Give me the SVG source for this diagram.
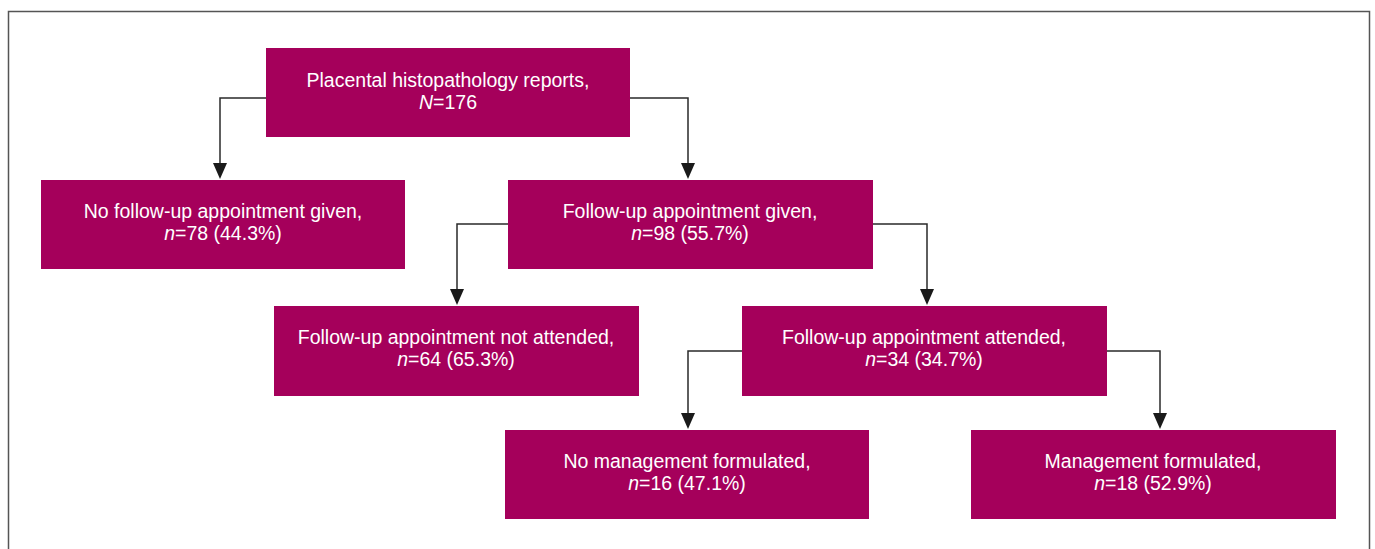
<svg xmlns="http://www.w3.org/2000/svg" width="1375" height="549" viewBox="0 0 1375 549">
<style>
.box{fill:#A5005B}
.t{font-family:"Liberation Sans",Arial,sans-serif;font-size:19.5px;fill:#ffffff;text-anchor:middle}
.c{fill:none;stroke:#2a2a2a;stroke-width:1.5}
.ah{fill:#1a1a1a}
</style>
<rect width="1375" height="549" fill="#ffffff"/>
<path d="M8.5,560 L8.5,11.5 L1369.5,11.5 L1369.5,560" fill="none" stroke="#555" stroke-width="1.5"/>
<g id="connectors">
<path class="c" d="M266,98 L220,98 L220,170"/>
<path class="ah" d="M213,163 L227,163 L220,179 Z"/>
<path class="c" d="M630,98 L688,98 L688,170"/>
<path class="ah" d="M681,163 L695,163 L688,179 Z"/>
<path class="c" d="M508,224 L457,224 L457,296"/>
<path class="ah" d="M450,289 L464,289 L457,305 Z"/>
<path class="c" d="M873,224 L927,224 L927,296"/>
<path class="ah" d="M920,289 L934,289 L927,305 Z"/>
<path class="c" d="M742,351 L688,351 L688,420"/>
<path class="ah" d="M681,413 L695,413 L688,429 Z"/>
<path class="c" d="M1107,351 L1160,351 L1160,420"/>
<path class="ah" d="M1153,413 L1167,413 L1160,429 Z"/>
</g>
<g id="n_root">
<rect class="box" x="266" y="48" width="364" height="89"/>
<text class="t" x="448" y="87">Placental histopathology reports,</text>
<text class="t" x="448" y="109"><tspan font-style="italic">N</tspan>=176</text>
</g>
<g id="n_nofollow">
<rect class="box" x="41" y="180" width="364" height="89"/>
<text class="t" x="223" y="218">No follow-up appointment given,</text>
<text class="t" x="223" y="240"><tspan font-style="italic">n</tspan>=78 (44.3%)</text>
</g>
<g id="n_follow">
<rect class="box" x="508" y="180" width="365" height="89"/>
<text class="t" x="690" y="218">Follow-up appointment given,</text>
<text class="t" x="690" y="240"><tspan font-style="italic">n</tspan>=98 (55.7%)</text>
</g>
<g id="n_notattended">
<rect class="box" x="274" y="306" width="365" height="90"/>
<text class="t" x="456" y="344">Follow-up appointment not attended,</text>
<text class="t" x="456" y="366"><tspan font-style="italic">n</tspan>=64 (65.3%)</text>
</g>
<g id="n_attended">
<rect class="box" x="742" y="306" width="365" height="90"/>
<text class="t" x="924" y="344">Follow-up appointment attended,</text>
<text class="t" x="924" y="366"><tspan font-style="italic">n</tspan>=34 (34.7%)</text>
</g>
<g id="n_nomgmt">
<rect class="box" x="505" y="430" width="364" height="89"/>
<text class="t" x="687" y="468">No management formulated,</text>
<text class="t" x="687" y="490"><tspan font-style="italic">n</tspan>=16 (47.1%)</text>
</g>
<g id="n_mgmt">
<rect class="box" x="971" y="430" width="365" height="89"/>
<text class="t" x="1153" y="468">Management formulated,</text>
<text class="t" x="1153" y="490"><tspan font-style="italic">n</tspan>=18 (52.9%)</text>
</g>
</svg>
